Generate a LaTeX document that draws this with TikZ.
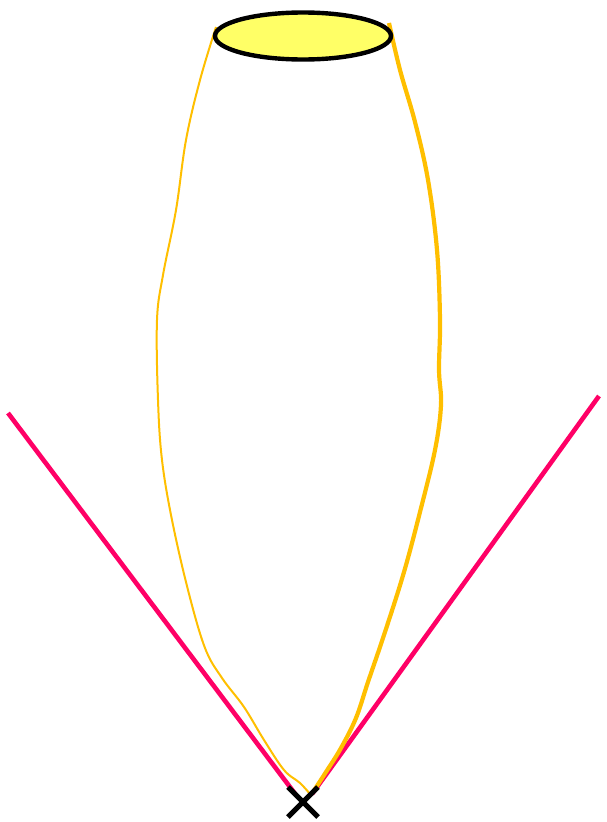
\documentclass[tikz,border=0pt]{standalone}
\usetikzlibrary{shapes.geometric}
\begin{document}
\begin{tikzpicture}[x=1pt,y=-1pt,
  pinkline/.style={draw=pinkc,line width=4.6pt},
  goldthin/.style={draw=goldc,line width=2pt},
  goldthick/.style={draw=goldc,line width=4.2pt},
  xmark/.style={draw=black,line width=5pt}]
\definecolor{pinkc}{HTML}{FF0066}
\definecolor{goldc}{HTML}{FFBF00}
\definecolor{lampc}{HTML}{FFFF66}
\useasboundingbox (0,0) rectangle (606,822);
\coordinate (L) at (8,413);
\coordinate (R) at (599,396);
\coordinate (LB) at (296,795);
\coordinate (RB) at (312,794);
\draw[pinkline] (L) -- (LB);
\draw[pinkline] (R) -- (RB);
\draw[goldthin] plot[smooth,tension=0.6] coordinates {(216,27) (200,80) (186,140) (176,210) (163,275) (157,320) (158,400) (162,460) (172,520) (188,590) (205,648) (222,678) (244,707) (264,740) (284,770) (300,783) (310,794)};
\draw[goldthick] plot[smooth,tension=0.6] coordinates {(389,23) (400,70) (415,122) (428,180) (437,250) (440,320) (439,370) (441,405) (435,450) (420,512) (404,572) (385,632) (368,682) (356,718) (341,748) (326,772) (313,792)};
\node[ellipse,draw=black,line width=4.4pt,fill=lampc,minimum width=176pt,minimum height=47pt,inner sep=0pt] (lamp) at (303,36) {};
\coordinate (X) at (303,802);
\draw[xmark] ([shift={(-15,-15)}]X) -- ([shift={(15,15)}]X);
\draw[xmark] ([shift={(-15,15)}]X) -- ([shift={(15,-15)}]X);
\end{tikzpicture}
\end{document}
